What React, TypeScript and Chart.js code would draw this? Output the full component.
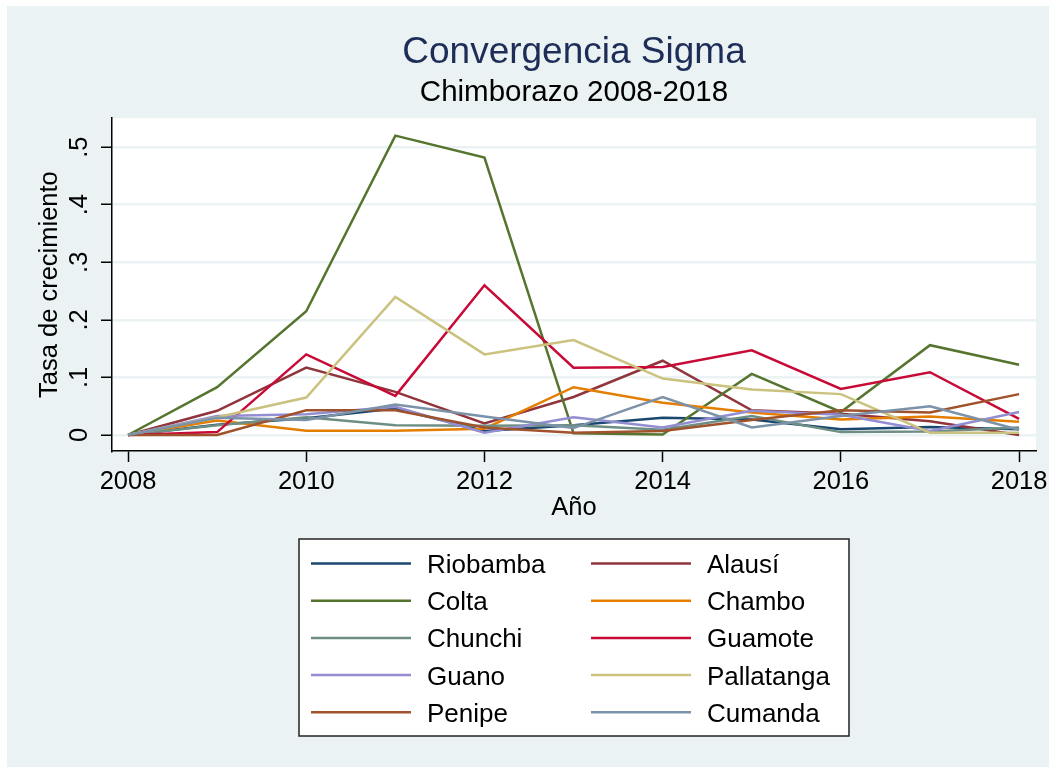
import React, { useEffect, useRef } from "react";
import { Chart, registerables } from "chart.js";

Chart.register(...registerables);

const W = 1049;
const H = 767;

const years = [2008, 2009, 2010, 2011, 2012, 2013, 2014, 2015, 2016, 2017, 2018];

const riobamba = [0, 0.018, 0.029, 0.046, 0.007, 0.017, 0.030, 0.027, 0.010, 0.014, 0.010];
const alausi = [0, 0.042, 0.117, 0.075, 0.020, 0.066, 0.129, 0.043, 0.037, 0.024, 0.000];
const colta = [0, 0.083, 0.215, 0.520, 0.482, 0.003, 0.001, 0.106, 0.040, 0.156, 0.122];
const chambo = [0, 0.025, 0.0075, 0.0075, 0.011, 0.083, 0.056, 0.039, 0.027, 0.032, 0.023];
const chunchi = [0, 0.017, 0.031, 0.017, 0.016, 0.017, 0.009, 0.033, 0.005, 0.006, 0.013];
const guamote = [0, 0.005, 0.140, 0.068, 0.260, 0.117, 0.118, 0.147, 0.080, 0.109, 0.028];
const guano = [0, 0.033, 0.036, 0.049, 0.004, 0.031, 0.013, 0.042, 0.035, 0.007, 0.040];
const pallatanga = [0, 0.031, 0.065, 0.240, 0.140, 0.165, 0.098, 0.079, 0.071, 0.004, 0.004];
const penipe = [0, 0.000, 0.043, 0.043, 0.013, 0.004, 0.007, 0.026, 0.043, 0.039, 0.071];
const cumanda = [0, 0.030, 0.026, 0.053, 0.032, 0.012, 0.066, 0.013, 0.033, 0.050, 0.009];

const seriesNames = [
  "Riobamba", "Alausí", "Colta", "Chambo", "Chunchi",
  "Guamote", "Guano", "Pallatanga", "Penipe", "Cumanda",
];
const seriesValues = [
  riobamba, alausi, colta, chambo, chunchi,
  guamote, guano, pallatanga, penipe, cumanda,
];
const seriesColors = [
  "rgb(26,71,111)", "rgb(144,53,59)", "rgb(85,117,47)", "rgb(227,126,0)", "rgb(110,142,132)",
  "rgb(200,10,55)", "rgb(147,141,210)", "rgb(202,194,126)", "rgb(160,82,45)", "rgb(123,146,168)",
];

const xTickValues = [2008, 2010, 2012, 2014, 2016, 2018];
const yTickValues = [0, 0.1, 0.2, 0.3, 0.4, 0.5];
const yTickLabels = ["0", ".1", ".2", ".3", ".4", ".5"];

const FONT = "'Liberation Sans', Arial, Helvetica, sans-serif";
const BG = "rgb(234,242,243)";

const backgroundPlugin = {
  id: "stataBackground",
  beforeDraw(chart: any) {
    const { ctx, chartArea } = chart;
    ctx.save();
    ctx.fillStyle = "#ffffff";
    ctx.fillRect(0, 0, W, H);
    ctx.fillStyle = BG;
    ctx.fillRect(7, 6, W - 7, H - 6);
    ctx.fillStyle = "#ffffff";
    ctx.fillRect(chartArea.left, chartArea.top, chartArea.right - chartArea.left, chartArea.bottom - chartArea.top);
    ctx.restore();
  },
};

const legendPlugin = {
  id: "stataLegend",
  afterDraw(chart: any) {
    const { ctx, chartArea } = chart;
    const cx = (chartArea.left + chartArea.right) / 2;
    const boxW = 550;
    const left = Math.round(cx - boxW / 2);
    const top = 539;
    const boxH = 197;
    ctx.save();
    ctx.fillStyle = "#ffffff";
    ctx.fillRect(left, top, boxW, boxH);
    ctx.strokeStyle = "#222222";
    ctx.lineWidth = 1.5;
    ctx.strokeRect(left, top, boxW, boxH);
    ctx.font = `26px ${FONT}`;
    ctx.textBaseline = "alphabetic";
    ctx.textAlign = "left";
    const rowY0 = 563.5;
    const rowStep = 37.2;
    chart.data.datasets.forEach((ds: any, i: number) => {
      const col = i % 2;
      const row = Math.floor(i / 2);
      const y = rowY0 + row * rowStep;
      const lx = left + 12 + col * 280;
      ctx.strokeStyle = ds.borderColor;
      ctx.lineWidth = 2.5;
      ctx.beginPath();
      ctx.moveTo(lx, y);
      ctx.lineTo(lx + 100, y);
      ctx.stroke();
      ctx.fillStyle = "#000000";
      ctx.fillText(ds.label, lx + 116, y + 9.5);
    });
    ctx.restore();
  },
};

export default function App() {
  const canvasRef = useRef<HTMLCanvasElement | null>(null);

  useEffect(() => {
    if (!canvasRef.current) return;
    const datasets = seriesNames.map((name, i) => ({
      label: name,
      data: years.map((yr, j) => ({ x: yr, y: seriesValues[i][j] })),
      borderColor: seriesColors[i],
      backgroundColor: seriesColors[i],
      borderWidth: 2.5,
      pointRadius: 0,
      tension: 0,
      fill: false,
      order: -i,
    }));

    const chart = new Chart(canvasRef.current, {
      type: "line",
      data: { datasets },
      plugins: [backgroundPlugin, legendPlugin],
      options: {
        animation: false,
        responsive: false,
        devicePixelRatio: 1,
        layout: { padding: { left: 7, right: 13, top: 0, bottom: 236 } },
        plugins: {
          legend: { display: false },
          tooltip: { enabled: false },
          title: {
            display: true,
            text: "Convergencia Sigma",
            color: "rgb(30,45,88)",
            fullSize: false,
            font: { family: FONT, size: 37, weight: "normal", lineHeight: 1.2 },
            padding: { top: 31, bottom: 0 },
          },
          subtitle: {
            display: true,
            text: "Chimborazo 2008-2018",
            color: "#000000",
            fullSize: false,
            font: { family: FONT, size: 29.5, weight: "normal", lineHeight: 1.2 },
            padding: { top: 0, bottom: 7.4 },
          },
        },
        scales: {
          x: {
            type: "linear",
            min: 2007.82,
            max: 2018.19,
            afterBuildTicks: (s: any) => {
              s.ticks = xTickValues.map((v) => ({ value: v }));
            },
            afterFit: (s: any) => {
              s.height = 80;
              s.paddingLeft = 0;
              s.paddingRight = 0;
            },
            ticks: {
              color: "#000000",
              font: { family: FONT, size: 25.5, lineHeight: 1.2 },
              padding: 5,
              maxRotation: 0,
              minRotation: 0,
              autoSkip: false,
              callback: (v: any) => String(v),
            },
            grid: {
              display: true,
              drawOnChartArea: false,
              drawTicks: true,
              tickLength: 11,
              tickColor: "#000000",
              tickWidth: 1.5,
              color: "rgba(0,0,0,0)",
            },
            border: { display: true, color: "#000000", width: 1.5 },
            title: {
              display: true,
              text: "Año",
              color: "#000000",
              font: { family: FONT, size: 25.5, lineHeight: 1.2 },
              padding: { top: 0, bottom: 7.5 },
            },
          },
          y: {
            type: "linear",
            min: -0.0278,
            max: 0.5503,
            afterBuildTicks: (s: any) => {
              s.ticks = yTickValues.map((v) => ({ value: v }));
            },
            afterFit: (s: any) => {
              s.width = 105;
              s.paddingTop = 0;
              s.paddingBottom = 0;
            },
            ticks: {
              color: "#000000",
              font: { family: FONT, size: 25.5, lineHeight: 1.2 },
              padding: 10,
              minRotation: 90,
              maxRotation: 90,
              crossAlign: "center",
              autoSkip: false,
              callback: (_v: any, idx: number) => yTickLabels[idx],
            },
            grid: {
              display: true,
              drawOnChartArea: true,
              drawTicks: true,
              tickLength: 11,
              tickColor: "#000000",
              tickWidth: 1.5,
              color: BG,
              lineWidth: 2.5,
            },
            border: { display: true, color: "#000000", width: 1.5 },
            title: {
              display: true,
              text: "Tasa de crecimiento",
              color: "#000000",
              font: { family: FONT, size: 25.5, lineHeight: 1.2 },
              padding: { top: 28, bottom: 0 },
            },
          },
        },
      } as any,
    });

    return () => chart.destroy();
  }, []);

  return (
    <div style={{ position: "absolute", left: 0, top: 0, width: W, height: H }}>
      <canvas ref={canvasRef} width={W} height={H} style={{ width: W, height: H, display: "block" }} />
    </div>
  );
}
